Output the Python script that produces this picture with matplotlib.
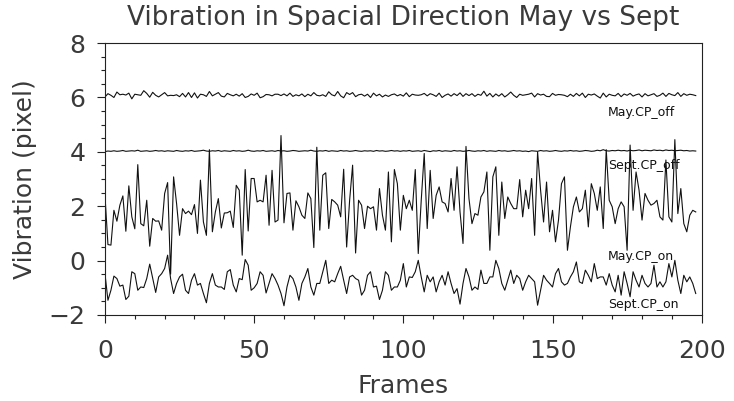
import numpy as np
import matplotlib
matplotlib.use("Agg")
import matplotlib.pyplot as plt
from matplotlib.ticker import MultipleLocator

plt.rcParams['font.family'] = ['DejaVu Sans']

# vibration per frame (pixel), four runs
may_off = [
    6.02, 6.14, 6.08, 6.00, 6.20, 6.10, 6.12, 6.09, 6.16, 5.95, 6.12, 6.10, 6.08, 6.25, 6.15, 6.01, 6.19, 6.08, 6.02, 6.10,
    6.18, 6.06, 6.08, 6.07, 6.10, 6.03, 6.15, 6.02, 6.18, 6.00, 6.17, 5.98, 6.12, 6.10, 6.04, 6.22, 6.06, 6.12, 6.18, 6.05,
    6.02, 6.15, 6.10, 6.06, 6.12, 6.05, 6.14, 6.00, 6.04, 6.13, 6.08, 6.16, 5.99, 6.03, 6.11, 6.10, 6.06, 6.12, 6.12, 6.07,
    6.13, 6.06, 6.16, 6.04, 6.10, 6.06, 6.13, 6.03, 6.12, 6.06, 6.18, 6.08, 6.06, 6.10, 6.04, 6.21, 6.10, 6.06, 6.22, 6.06,
    5.99, 6.18, 6.11, 6.18, 6.03, 6.10, 6.12, 6.05, 6.12, 6.00, 6.16, 6.06, 6.12, 6.02, 6.09, 6.04, 6.10, 6.13, 6.06, 6.11,
    6.05, 6.17, 6.03, 6.12, 6.09, 6.08, 6.10, 6.15, 6.06, 6.14, 6.10, 6.04, 6.16, 6.00, 6.08, 6.13, 6.05, 6.14, 6.07, 6.17,
    6.04, 6.14, 6.07, 6.14, 6.04, 6.12, 6.08, 6.23, 6.05, 6.15, 6.02, 6.13, 6.05, 6.14, 6.02, 6.10, 6.20, 6.08, 6.00, 6.12,
    6.08, 6.10, 6.12, 6.16, 6.02, 6.14, 6.09, 6.12, 6.04, 6.03, 6.15, 6.08, 6.11, 6.10, 6.08, 6.03, 6.12, 6.04, 6.15, 6.06,
    6.16, 6.00, 6.12, 6.09, 6.13, 6.05, 5.98, 6.16, 6.02, 6.12, 6.08, 6.06, 6.15, 6.03, 6.13, 6.08, 6.15, 6.05, 6.10, 6.13,
    6.02, 6.14, 6.06, 6.10, 6.14, 6.04, 6.08, 6.16, 6.04, 6.15, 6.10, 6.07, 6.18, 6.04, 6.14, 6.08, 6.12, 6.10, 6.07,
]

sept_off = [
    4.01, 4.03, 4.02, 4.04, 4.02, 4.03, 4.05, 4.02, 4.03, 4.04, 4.03, 4.06, 4.02, 4.03, 4.04, 4.02, 4.03, 4.05, 4.03, 4.04,
    4.02, 4.04, 4.03, 4.02, 4.05, 4.03, 4.02, 4.04, 4.03, 4.05, 4.02, 4.03, 4.04, 4.06, 4.03, 4.02, 4.04, 4.03, 4.05, 4.02,
    4.04, 4.03, 4.02, 4.05, 4.03, 4.04, 4.02, 4.03, 4.06, 4.03, 4.02, 4.04, 4.03, 4.05, 4.02, 4.03, 4.04, 4.02, 4.05, 4.03,
    4.04, 4.02, 4.03, 4.05, 4.04, 4.02, 4.03, 4.04, 4.03, 4.06, 4.03, 4.02, 4.04, 4.03, 4.05, 4.02, 4.04, 4.03, 4.02, 4.05,
    4.03, 4.04, 4.02, 4.03, 4.05, 4.03, 4.02, 4.04, 4.03, 4.04, 4.02, 4.05, 4.03, 4.04, 4.02, 4.03, 4.05, 4.03, 4.04, 4.02,
    4.04, 4.03, 4.05, 4.02, 4.03, 4.04, 4.02, 4.05, 4.03, 4.01, 4.04, 4.03, 4.05, 4.02, 4.04, 4.03, 4.02, 4.05, 4.03, 4.04,
    4.02, 4.03, 4.05, 4.03, 4.02, 4.04, 4.03, 4.05, 4.02, 4.04, 4.03, 4.02, 4.05, 4.03, 4.04, 4.02, 4.03, 4.05, 4.03, 4.04,
    4.02, 4.03, 4.01, 4.04, 4.03, 4.02, 4.05, 4.03, 4.04, 4.02, 4.03, 4.05, 4.03, 4.02, 4.04, 4.03, 4.05, 4.03, 4.04, 4.02,
    4.03, 4.05, 4.04, 4.02, 4.03, 4.06, 4.04, 4.08, 4.04, 4.03, 4.05, 4.04, 4.06, 4.04, 4.05, 4.03, 4.06, 4.04, 4.05, 4.07,
    4.04, 4.06, 4.05, 4.04, 4.07, 4.05, 4.06, 4.04, 4.07, 4.05, 4.06, 4.04, 4.05, 4.06, 4.04, 4.05, 4.03, 4.04, 4.03,
]

may_on = [
    2.40, 0.59, 0.57, 1.85, 1.45, 2.04, 2.38, 1.08, 2.75, 1.61, 1.17, 3.53, 1.36, 1.28, 2.22, 0.53, 1.55, 1.45, 1.46, 1.12,
    2.47, 2.87, -0.50, 3.08, 2.10, 0.93, 1.91, 1.73, 1.82, 1.69, 2.06, 1.00, 2.96, 1.42, 0.93, 4.08, 1.06, 1.79, 2.28, 1.20,
    1.75, 1.76, 1.82, 1.22, 2.77, 2.59, 0.20, 3.35, 1.09, 3.02, 3.02, 2.16, 2.22, 2.16, 3.14, 1.30, 3.32, 1.42, 1.49, 4.60,
    1.39, 2.47, 2.49, 1.12, 2.20, 1.98, 1.67, 1.55, 2.49, 2.28, 0.48, 4.17, 1.12, 3.14, 3.23, 1.18, 2.25, 2.16, 2.04, 1.61,
    3.36, 0.50, 2.22, 3.51, 0.28, 2.22, 2.04, 1.18, 2.00, 1.91, 1.98, 1.12, 2.65, 1.67, 1.12, 3.26, 0.69, 3.35, 2.83, 1.12,
    2.40, 1.91, 2.22, 1.85, 3.35, 0.26, 2.22, 3.94, 1.18, 3.32, 1.55, 2.40, 2.71, 2.16, 2.10, 1.79, 3.02, 1.85, 3.45, 1.79,
    0.63, 4.20, 2.28, 1.36, 1.73, 1.67, 2.34, 2.53, 3.26, 0.38, 3.08, 3.45, 0.93, 2.89, 1.55, 2.34, 2.10, 1.91, 1.91, 2.98,
    1.61, 2.59, 1.91, 3.02, 0.93, 4.00, 2.59, 1.42, 2.89, 1.06, 1.85, 0.69, 1.49, 2.83, 3.08, 0.38, 1.24, 1.98, 2.34, 1.79,
    1.91, 2.59, 1.24, 2.83, 2.47, 1.85, 2.71, 1.18, 4.08, 2.22, 1.98, 1.36, 1.91, 2.16, 1.98, 0.38, 4.25, 1.85, 3.26, 2.59,
    1.49, 2.47, 2.22, 2.04, 2.10, 2.22, 1.61, 1.49, 3.70, 1.61, 1.42, 4.45, 1.73, 2.65, 1.36, 1.06, 1.67, 1.85, 1.79,
]

sept_on = [
    -0.48, -1.46, -1.09, -0.57, -0.66, -0.94, -0.90, -1.43, -1.31, -0.41, -0.48, -1.09, -0.97, -0.99, -0.66, -0.13, -0.66, -1.17, -0.60, -0.48,
    -0.29, 0.20, -0.66, -1.21, -0.84, -0.60, -0.50, -1.09, -1.21, -0.72, -0.48, -0.90, -0.84, -1.21, -1.55, -0.84, -0.48, -0.90, -0.97, -0.97,
    -1.06, -0.41, -0.33, -0.90, -1.15, -0.66, -0.70, 0.04, -0.17, -1.09, -1.00, -0.84, -0.41, -0.54, -1.19, -0.84, -0.48, -0.66, -0.90, -1.21,
    -1.66, -0.97, -0.54, -0.66, -0.97, -1.46, -0.84, -0.60, -0.29, -0.97, -1.27, -0.84, -0.84, -0.41, 0.01, -0.84, -0.72, -0.78, -0.48, -0.21,
    -0.72, -1.21, -0.60, -0.54, -0.66, -0.72, -1.27, -1.09, -0.54, -0.41, -0.97, -0.94, -1.43, -1.09, -0.41, -0.54, -1.09, -0.97, -0.97, -0.72,
    -0.11, -0.97, -0.60, -0.62, -0.41, 0.01, -0.60, -1.15, -0.54, -0.78, -0.60, -1.15, -0.78, -0.54, -0.90, -0.41, -0.84, -1.21, -1.03, -1.60,
    -0.84, -0.29, -0.60, -1.09, -0.97, -1.06, -0.35, -0.84, -0.84, -0.60, -0.60, 0.01, -0.29, -0.84, -1.09, -0.72, -0.35, -0.84, -0.54, -0.66,
    -1.09, -0.78, -0.54, -0.66, -0.78, -1.64, -1.09, -0.54, -0.72, -0.84, -0.97, -0.48, -0.29, -0.78, -0.90, -0.84, -0.60, -0.41, -0.05, -0.78,
    -0.84, -0.35, -0.54, -0.78, -0.11, -0.66, -0.60, -0.60, -0.90, -0.48, -0.90, -1.15, -0.54, -1.27, -0.41, -0.84, -1.33, -0.41, -0.72, -0.97,
    -0.54, -0.84, -0.97, -0.84, -0.17, -0.97, -0.78, -0.97, -0.78, -0.11, -0.60, 0.01, -0.72, -1.21, -0.54, -0.78, -0.60, -0.84, -1.21,
]

series = [
    ("May.CP_off", may_off, 5.45),
    ("Sept.CP_off", sept_off, 3.5),
    ("May.CP_on", may_on, 0.15),
    ("Sept.CP_on", sept_on, -1.6),
]

text_col = "#3a3a3a"

fig = plt.figure(figsize=(7.34, 4.01), dpi=100)
ax = fig.add_axes([0.143, 0.2145, 0.813, 0.678])

for name, vals, label_y in series:
    frames = np.arange(len(vals))
    ax.plot(frames, vals, color="#111111", lw=0.8)
    ax.text(168.5, label_y, name, fontsize=9, va="center", ha="left", color="#111111")

ax.set_xlim(0, 200)
ax.set_ylim(-2, 8)
ax.xaxis.set_major_locator(MultipleLocator(50))
ax.xaxis.set_minor_locator(MultipleLocator(10))
ax.yaxis.set_major_locator(MultipleLocator(2))
ax.yaxis.set_minor_locator(MultipleLocator(0.5))
ax.tick_params(which="both", direction="out", top=False, right=False, labelsize=18, width=0.8,
               labelcolor=text_col, color="#222222")
ax.tick_params(axis="x", which="major", length=6, pad=11)
ax.tick_params(axis="y", which="major", length=6, pad=8)
ax.tick_params(which="minor", length=3)
for s in ax.spines.values():
    s.set_linewidth(0.8)
    s.set_color("#222222")

ax.set_title("Vibration in Spacial Direction May vs Sept", fontsize=19, pad=13, color=text_col)
ax.set_xlabel("Frames", fontsize=18, color=text_col, labelpad=8)
ax.set_ylabel("Vibration (pixel)", fontsize=18, labelpad=8, color=text_col)

fig.savefig("out.png", dpi=100)
